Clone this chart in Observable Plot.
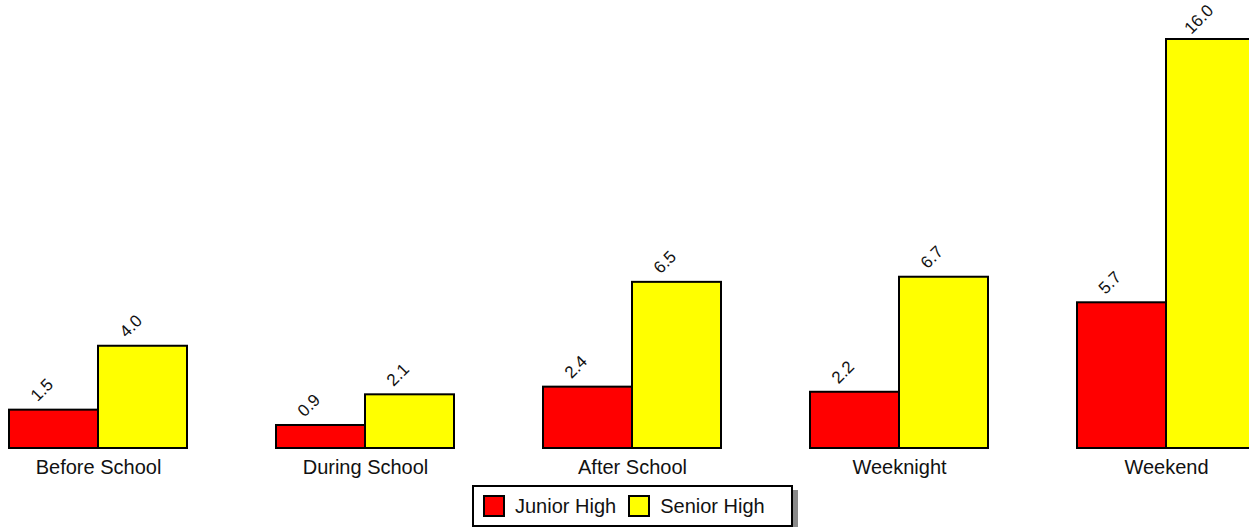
<!DOCTYPE html>
<html>
<head>
<meta charset="utf-8">
<script src="https://cdn.jsdelivr.net/npm/d3@7"></script>
<script src="https://cdn.jsdelivr.net/npm/@observablehq/plot@0.6"></script>
<style>
  html, body { margin: 0; padding: 0; background: #fff; overflow: hidden; }
  body { font-family: "Liberation Sans", Arial, Helvetica, sans-serif; }
  #wrap { width: 1249px; height: 480px; overflow: hidden; }
  #wrap svg { max-width: none !important; display: block; }
  #legend {
    box-sizing: border-box;
    margin-top: 5px; margin-left: 472px;
    width: 321px; height: 42px;
    border: 2px solid #000;
    box-shadow: 5px 5px 0 #8a8a8a;
    display: flex; align-items: center;
    padding-left: 9px;
    font-size: 20px; color: #111;
  }
  .sw { box-sizing: border-box; width: 22px; height: 22px; border: 2px solid #000; display: inline-block; }
  .lab { margin-left: 10px; margin-right: 12px; }
</style>
</head>
<body>
<div id="wrap"></div>
<div id="legend"></div>
<script>
const categories = ["Before School", "During School", "After School", "Weeknight", "Weekend"];
const series = ["Junior High", "Senior High"];
const juniorHigh = [1.5, 0.9, 2.4, 2.2, 5.7];
const seniorHigh = [4.0, 2.1, 6.5, 6.7, 16.0];
const colors = ["#ff0000", "#ffff00"];

const data = [];
categories.forEach((c, i) => {
  data.push({category: c, series: series[0], value: juniorHigh[i]});
  data.push({category: c, series: series[1], value: seniorHigh[i]});
});

const chart = Plot.plot({
  width: 1263,
  height: 480,
  marginLeft: 0,
  marginRight: 0,
  marginTop: 39,
  marginBottom: 32,
  style: {fontFamily: '"Liberation Sans", Arial, Helvetica, sans-serif', background: "#fff", overflow: "visible"},
  fx: {domain: categories, paddingInner: 1/3, paddingOuter: 0.0318, label: null},
  x: {domain: series, padding: 0, axis: null},
  y: {domain: [0, 16], axis: null},
  color: {domain: series, range: colors},
  marks: [
    Plot.axisFx({anchor: "bottom", tickSize: 0, tickPadding: 11, fontSize: 20, fill: "#111", label: null}),
    Plot.barY(data, {fx: "category", x: "series", y: "value", fill: "series", stroke: "#000", strokeWidth: 2, inset: 0}),
    Plot.text(data, {fx: "category", x: "series", y: "value", text: d => d.value.toFixed(1),
      rotate: -45, textAnchor: "middle", dx: -12, dy: -20, fontSize: 17, fill: "#111"})
  ]
});
chart.style.maxWidth = "none";
document.getElementById("wrap").appendChild(chart);

const legend = document.getElementById("legend");
series.forEach((s, i) => {
  const sw = document.createElement("span");
  sw.className = "sw";
  sw.style.background = colors[i];
  const lab = document.createElement("span");
  lab.className = "lab";
  lab.textContent = s;
  legend.appendChild(sw);
  legend.appendChild(lab);
});
</script>
</body>
</html>
